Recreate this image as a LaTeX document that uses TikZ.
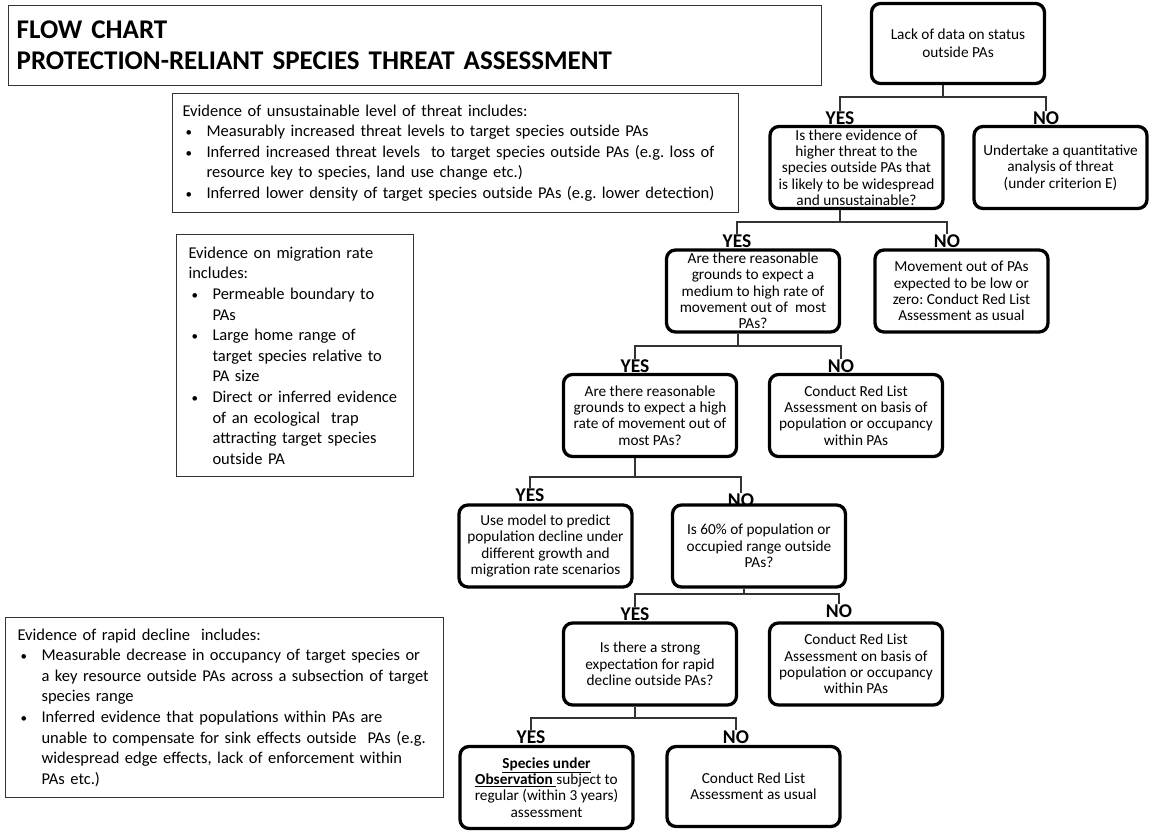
\documentclass[tikz,border=0pt]{standalone}
\usepackage{fontspec}
\setmainfont{Carlito}
\frenchspacing
\newcommand{\bul}{\makebox[24pt][l]{\hspace{3pt}{\fontsize{13}{13}\selectfont\textbullet}}}
\newcommand{\ind}{\hspace*{24pt}}
\begin{document}
\begin{tikzpicture}[x=1pt,y=-1pt,
  flow/.style={draw=black, line width=3.3pt, rounded corners=9pt, align=center,
    font=\fontsize{15.3}{16.3}\selectfont, inner sep=1pt,
    minimum width=173pt, minimum height=82pt},
  evid/.style={draw=black!80, line width=1.1pt, align=left, anchor=north west,
    font=\fontsize{16.5}{20.6}\selectfont, inner ysep=0pt},
  lbl/.style={font=\bfseries\fontsize{19.5}{20}\selectfont, inner sep=0pt, anchor=base},
  conn/.style={draw=black!80, line width=1.4pt}
]
\useasboundingbox (0,0) rectangle (1150,833);

% title
\node[draw=black!80, line width=1.3pt, anchor=north west, minimum width=813pt, minimum height=80pt,
  text width=797pt, inner xsep=8pt, align=left, font=\bfseries\fontsize{27}{31}\selectfont] (title) at (8,5)
  {FLOW CHART\\PROTECTION-RELIANT SPECIES THREAT ASSESSMENT};

% evidence boxes
\node[evid, minimum width=566pt, minimum height=119pt, text width=546pt, inner xsep=10pt] (ev1) at (172,93)
  {Evidence of unsustainable level of threat includes:\\
   \bul Measurably increased threat levels to target species outside PAs\\
   \bul Inferred increased threat levels\ \ to target species outside PAs (e.g. loss of\\
   \ind resource key to species, land use change etc.)\\
   \bul Inferred lower density of target species outside PAs (e.g. lower detection)};

\node[evid, minimum width=237pt, minimum height=242pt, text width=213pt, inner xsep=12pt] (ev2) at (176,234)
  {Evidence on migration rate\\
   includes:\\
   \bul Permeable boundary to\\
   \ind PAs\\
   \bul Large home range of\\
   \ind target species relative to\\
   \ind PA size\\
   \bul Direct or inferred evidence\\
   \ind of an ecological\ \ trap\\
   \ind attracting target species\\
   \ind outside PA};

\node[evid, minimum width=438pt, minimum height=180pt, text width=414pt, inner xsep=12pt] (ev3) at (5,617)
  {Evidence of rapid decline\ \ includes:\\
   \bul Measurable decrease in occupancy of target species or\\
   \ind a key resource outside PAs across a subsection of target\\
   \ind species range\\
   \bul Inferred evidence that populations within PAs are\\
   \ind unable to compensate for sink effects outside\ \ PAs (e.g.\\
   \ind widespread edge effects, lack of enforcement within\\
   \ind PAs etc.)};

% flow boxes
\node[flow, minimum height=80pt] (A) at (958,43.5) {Lack of data on status\\[2pt]outside PAs};
\node[flow] (B) at (856.5,167.5) {Is there evidence of\\higher threat to the\\species outside PAs that\\is likely to be widespread\\and unsustainable?};
\node[flow] (C) at (1060.5,167.5) {Undertake a quantitative\\analysis of threat\\(under criterion E)};
\node[flow] (D) at (753,291) {Are there reasonable\\grounds to expect a\\medium to high rate of\\movement out of\ \ most\\PAs?};
\node[flow] (E) at (961.5,291) {Movement out of PAs\\expected to be low or\\zero: Conduct Red List\\Assessment as usual};
\node[flow] (F) at (650,415.5) {Are there reasonable\\grounds to expect a high\\rate of movement out of\\most PAs?};
\node[flow] (G) at (856,415.5) {Conduct Red List\\Assessment on basis of\\population or occupancy\\within PAs};
\node[flow] (H) at (545.5,546) {Use model to predict\\population decline under\\different growth and\\migration rate scenarios};
\node[flow] (I) at (759,546) {Is 60\% of population or\\occupied range outside\\PAs?};
\node[flow] (J) at (650,664) {Is there a strong\\expectation for rapid\\decline outside PAs?};
\node[flow] (K) at (856,664) {Conduct Red List\\Assessment on basis of\\population or occupancy\\within PAs};
\node[flow] (M) at (546.5,787.5) {\underline{\textbf{Species under}}\\\underline{\textbf{Observation}\ }subject to\\regular (within 3 years)\\assessment};
\node[flow, minimum height=80pt] (L) at (753.5,786.5) {Conduct Red List\\Assessment as usual};

% labels
\node[lbl] (y1) at (840,124) {YES};
\node[lbl] (n1) at (1046,124) {NO};
\node[lbl] (y2) at (737,247) {YES};
\node[lbl] (n2) at (947,247) {NO};
\node[lbl] (y3) at (635,372) {YES};
\node[lbl] (n3) at (841,372) {NO};
\node[lbl] (y4) at (530,501) {YES};
\node[lbl] (n4) at (741,506) {NO};
\node[lbl] (y5) at (635,620) {YES};
\node[lbl] (n5) at (839,617) {NO};
\node[lbl] (y6) at (531,743) {YES};
\node[lbl] (n6) at (736,743) {NO};

% junctions
\coordinate (j1) at (943,97);
\coordinate (j2) at (840,222);
\coordinate (j3) at (738,346);
\coordinate (j4) at (635,477);
\coordinate (j5) at (744,594);
\coordinate (j6) at (635,718);

\draw[conn] (j1 |- A.south) -- (j1);
\draw[conn] (y1.north) |- (j1) -| (n1.north);
\draw[conn] (j2 |- B.south) -- (j2);
\draw[conn] (y2.north) |- (j2) -| (n2.north);
\draw[conn] (j3 |- D.south) -- (j3);
\draw[conn] (y3.north) |- (j3) -| (n3.north);
\draw[conn] (j4 |- F.south) -- (j4);
\draw[conn] (y4.north) |- (j4) -| (n4.north);
\draw[conn] (j5 |- I.south) -- (j5);
\draw[conn] (y5.north) |- (j5) -| (n5.north);
\draw[conn] (j6 |- J.south) -- (j6);
\draw[conn] (y6.north) |- (j6) -| (n6.north);
\end{tikzpicture}
\end{document}
